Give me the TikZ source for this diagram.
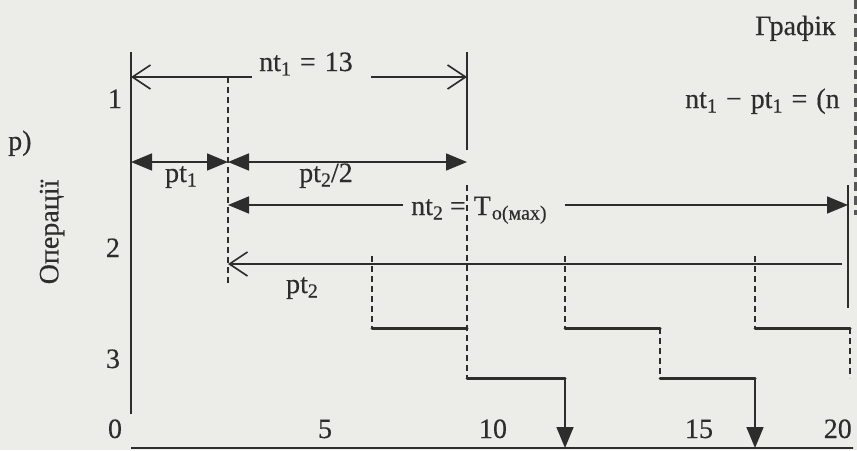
\documentclass[tikz,border=0pt]{standalone}
\usepackage{fontspec}
\setmainfont{Liberation Serif}[FakeBold=0.35]
\usetikzlibrary{arrows.meta}
\definecolor{paper}{RGB}{236,236,233}
\definecolor{ink}{RGB}{45,45,45}
\newcommand\subs[1]{\raisebox{-0.35ex}{\fontsize{20}{20}\selectfont #1}}
\begin{document}
\begin{tikzpicture}[x=1pt,y=-1pt,
  lbl/.style={font=\fontsize{28}{30}\selectfont, text=ink, inner sep=0pt},
  thinline/.style={draw=ink, line width=1.6pt},
  stepline/.style={draw=ink, line width=3pt, line cap=round},
  dsh/.style={draw=ink, line width=1.6pt, dash pattern=on 6pt off 4pt},
  fa/.style={-{Triangle[length=21pt,width=17pt]}},
  fafa/.style={{Triangle[length=21pt,width=17pt]}-{Triangle[length=21pt,width=17pt]}},
  oa/.style={-{Straight Barb[length=18pt,width=24pt,line width=1.6pt]}}]
\fill[paper] (0,0) rectangle (857,450);
\useasboundingbox (0,0) rectangle (857,450);
\begin{scope}
\clip (0,0) rectangle (853,450);
% axes
\coordinate (ay0) at (131,52);
\coordinate (ay1) at (131,414);
\coordinate (ax0) at (131,448);
\coordinate (ax1) at (857,448);
\draw[thinline] (ay0) -- (ay1);
\draw[thinline] (ax0) -- (ax1);
% labels
\node[lbl,anchor=base] (l1) at (115,108) {1};
\node[lbl,anchor=base] (l2) at (113,257) {2};
\node[lbl,anchor=base] (l3) at (113,368) {3};
\node[lbl,anchor=base] (l0) at (115,438) {0};
\node[lbl,anchor=base] (l5) at (325,438) {5};
\node[lbl,anchor=base] (l10) at (493,438) {10};
\node[lbl,anchor=base] (l15) at (699,438) {15};
\node[lbl,anchor=base east] (l20) at (852,438) {20};
\node[lbl,anchor=base west] (lp) at (8,150) {p)};
\node[lbl,rotate=90] (lop) at (52,232) {Операції};
\node[lbl,anchor=base west] (lgr) at (755,35) {Графік};
\node[lbl,anchor=base west] (lform) at (685,108) {nt\subs{1}\hspace{9pt}−\hspace{9pt}pt\subs{1}\hspace{9pt}=\hspace{9pt}(n};
% top: nt1 = 13
\node[lbl,anchor=base west] (nt1) at (259,71) {nt\subs{1}\hspace{9pt}=\hspace{9pt}13};
\coordinate (t1L) at (131,77);
\coordinate (t1a) at (252,77);
\coordinate (t1b) at (371,77);
\coordinate (t1R) at (467,77);
\draw[thinline,oa] (t1a) -- (t1L);
\draw[thinline,oa] (t1b) -- (t1R);
\coordinate (v1a) at (467,52);
\coordinate (v1b) at (467,150);
\draw[thinline] (v1a) -- (v1b);
% dashed at pt1
\coordinate (d1a) at (228,77);
\coordinate (d1b) at (228,285);
\draw[dsh] (d1a) -- (d1b);
% row pt1 / pt2/2
\coordinate (r2a) at (131,162);
\coordinate (r2b) at (228,162);
\coordinate (r2c) at (467,162);
\draw[thinline,fafa] (r2a) -- (r2b);
\draw[thinline,fafa] (r2b) -- (r2c);
\node[lbl,anchor=base] (pt1) at (181,182) {pt\subs{1}};
\node[lbl,anchor=base] (pt22) at (326,182) {pt\subs{2}/2};
% row nt2 = To(max)
\node[lbl,anchor=base west] (nt2) at (411,215) {nt\subs{2}\hspace{7pt}=\hspace{8pt}T\subs{\hspace{1pt}о(мах)}};
\coordinate (r3a) at (228,205);
\coordinate (r3b) at (403,205);
\coordinate (r3c) at (565,205);
\coordinate (r3d) at (848,205);
\draw[thinline,fa] (r3b) -- (r3a);
\draw[thinline,fa] (r3c) -- (r3d);
\coordinate (vRa) at (848,185);
\coordinate (vRb) at (848,308);
\draw[thinline] (vRa) -- (vRb);
% dashed at 467
\coordinate (d2a) at (467,185);
\coordinate (d2b) at (467,378);
\draw[dsh] (d2a) -- (d2b);
% row pt2
\coordinate (r4a) at (228,264);
\coordinate (r4b) at (842,264);
\draw[thinline,oa] (r4b) -- (r4a);
\node[lbl,anchor=base] (pt2) at (302,293) {pt\subs{2}};
% step pattern
\coordinate (s1) at (372,256);
\coordinate (s2) at (372,328);
\coordinate (s3) at (467,328);
\draw[dsh] (s1) -- (s2);
\draw[stepline] (s2) -- (s3);
\coordinate (s4) at (467,378);
\coordinate (s5) at (565,378);
\coordinate (s6) at (565,448);
\draw[stepline] (s4) -- (s5);
\draw[thinline,fa] (s5) -- (s6);
\coordinate (u1) at (565,256);
\coordinate (u2) at (565,328);
\coordinate (u3) at (660,328);
\coordinate (u4) at (660,378);
\coordinate (u5) at (755,378);
\coordinate (u6) at (755,448);
\draw[dsh] (u1) -- (u2);
\draw[stepline] (u2) -- (u3);
\draw[dsh] (u3) -- (u4);
\draw[stepline] (u4) -- (u5);
\draw[thinline,fa] (u5) -- (u6);
\coordinate (w1) at (755,256);
\coordinate (w2) at (755,328);
\coordinate (w3) at (850,328);
\coordinate (w4) at (850,378);
\draw[dsh] (w1) -- (w2);
\draw[stepline] (w2) -- (w3);
\draw[dsh] (w3) -- (w4);
\end{scope}
% scanned page edge marks
\coordinate (e1) at (855,0);
\coordinate (e2) at (855,215);
\draw[draw=ink!80, line width=3pt, dash pattern=on 9pt off 5pt] (e1) -- (e2);
\end{tikzpicture}
\end{document}
